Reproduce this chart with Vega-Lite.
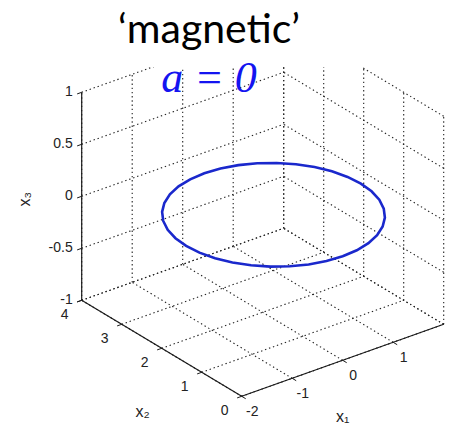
{
  "$schema": "https://vega.github.io/schema/vega-lite/v6.json",
  "width": 452,
  "height": 361,
  "padding": {"top": 10, "left": 0, "right": 0, "bottom": 0},
  "autosize": {"type": "pad"},
  "background": "white",
  "config": {"view": {"stroke": null}},
  "title": {
    "text": "‘magnetic’",
    "subtitle": "a = 0",
    "anchor": "middle",
    "dx": -17,
    "offset": -35,
    "font": "Lato",
    "fontSize": 41,
    "fontWeight": "normal",
    "color": "black",
    "subtitleFont": "Liberation Serif",
    "subtitleFontStyle": "italic",
    "subtitleFontSize": 44,
    "subtitleColor": "#1414f0",
    "subtitlePadding": 5
  },
  "datasets": {
    "grid": [
      {"x1": -2, "x2": 0, "x3": -1, "x1e": -2, "x2e": 4, "x3e": -1},
      {"x1": -1, "x2": 0, "x3": -1, "x1e": -1, "x2e": 4, "x3e": -1},
      {"x1": 0, "x2": 0, "x3": -1, "x1e": 0, "x2e": 4, "x3e": -1},
      {"x1": 1, "x2": 0, "x3": -1, "x1e": 1, "x2e": 4, "x3e": -1},
      {"x1": 2, "x2": 0, "x3": -1, "x1e": 2, "x2e": 4, "x3e": -1},
      {"x1": -2, "x2": 0, "x3": -1, "x1e": 2, "x2e": 0, "x3e": -1},
      {"x1": -2, "x2": 1, "x3": -1, "x1e": 2, "x2e": 1, "x3e": -1},
      {"x1": -2, "x2": 2, "x3": -1, "x1e": 2, "x2e": 2, "x3e": -1},
      {"x1": -2, "x2": 3, "x3": -1, "x1e": 2, "x2e": 3, "x3e": -1},
      {"x1": -2, "x2": 4, "x3": -1, "x1e": 2, "x2e": 4, "x3e": -1},
      {"x1": -2, "x2": 4, "x3": -1, "x1e": -2, "x2e": 4, "x3e": 1},
      {"x1": -1, "x2": 4, "x3": -1, "x1e": -1, "x2e": 4, "x3e": 1},
      {"x1": 0, "x2": 4, "x3": -1, "x1e": 0, "x2e": 4, "x3e": 1},
      {"x1": 1, "x2": 4, "x3": -1, "x1e": 1, "x2e": 4, "x3e": 1},
      {"x1": 2, "x2": 4, "x3": -1, "x1e": 2, "x2e": 4, "x3e": 1},
      {"x1": -2, "x2": 4, "x3": -1, "x1e": 2, "x2e": 4, "x3e": -1},
      {"x1": -2, "x2": 4, "x3": -0.5, "x1e": 2, "x2e": 4, "x3e": -0.5},
      {"x1": -2, "x2": 4, "x3": 0, "x1e": 2, "x2e": 4, "x3e": 0},
      {"x1": -2, "x2": 4, "x3": 0.5, "x1e": 2, "x2e": 4, "x3e": 0.5},
      {"x1": -2, "x2": 4, "x3": 1, "x1e": 2, "x2e": 4, "x3e": 1},
      {"x1": 2, "x2": 0, "x3": -1, "x1e": 2, "x2e": 0, "x3e": 1},
      {"x1": 2, "x2": 1, "x3": -1, "x1e": 2, "x2e": 1, "x3e": 1},
      {"x1": 2, "x2": 2, "x3": -1, "x1e": 2, "x2e": 2, "x3e": 1},
      {"x1": 2, "x2": 3, "x3": -1, "x1e": 2, "x2e": 3, "x3e": 1},
      {"x1": 2, "x2": 4, "x3": -1, "x1e": 2, "x2e": 4, "x3e": 1},
      {"x1": 2, "x2": 0, "x3": -1, "x1e": 2, "x2e": 4, "x3e": -1},
      {"x1": 2, "x2": 0, "x3": -0.5, "x1e": 2, "x2e": 4, "x3e": -0.5},
      {"x1": 2, "x2": 0, "x3": 0, "x1e": 2, "x2e": 4, "x3e": 0},
      {"x1": 2, "x2": 0, "x3": 0.5, "x1e": 2, "x2e": 4, "x3e": 0.5},
      {"x1": 2, "x2": 0, "x3": 1, "x1e": 2, "x2e": 4, "x3e": 1}
    ],
    "axes": [
      {"x1": -2, "x2": 4, "x3": -1, "x1e": -2, "x2e": 4, "x3e": 1},
      {"x1": -2, "x2": 4, "x3": -1, "x1e": -2, "x2e": 0, "x3e": -1},
      {"x1": -2, "x2": 0, "x3": -1, "x1e": 2, "x2e": 0, "x3e": -1}
    ],
    "ticks": [
      {"axis": "x3", "x1": -2, "x2": 4, "x3": -1, "text": "-1"},
      {"axis": "x3", "x1": -2, "x2": 4, "x3": -0.5, "text": "-0.5"},
      {"axis": "x3", "x1": -2, "x2": 4, "x3": 0, "text": "0"},
      {"axis": "x3", "x1": -2, "x2": 4, "x3": 0.5, "text": "0.5"},
      {"axis": "x3", "x1": -2, "x2": 4, "x3": 1, "text": "1"},
      {"axis": "x2", "x1": -2, "x2": 0, "x3": -1, "text": "0"},
      {"axis": "x2", "x1": -2, "x2": 1, "x3": -1, "text": "1"},
      {"axis": "x2", "x1": -2, "x2": 2, "x3": -1, "text": "2"},
      {"axis": "x2", "x1": -2, "x2": 3, "x3": -1, "text": "3"},
      {"axis": "x2", "x1": -2, "x2": 4, "x3": -1, "text": "4"},
      {"axis": "x1", "x1": -2, "x2": 0, "x3": -1, "text": "-2"},
      {"axis": "x1", "x1": -1, "x2": 0, "x3": -1, "text": "-1"},
      {"axis": "x1", "x1": 0, "x2": 0, "x3": -1, "text": "0"},
      {"axis": "x1", "x1": 1, "x2": 0, "x3": -1, "text": "1"}
    ],
    "titles": [
      {"axis": "x3", "x1": -2, "x2": 4, "x3": 0, "text": "x₃"},
      {"axis": "x2", "x1": -2, "x2": 2, "x3": -1, "text": "x₂"},
      {"axis": "x1", "x1": 0, "x2": 0, "x3": -1, "text": "x₁"}
    ],
    "orbit": [
      {"t": 0, "x1": 0, "x2": 0, "x3": 0},
      {"t": 1, "x1": 0.3, "x2": 0.026, "x3": 0},
      {"t": 2, "x1": 0.592, "x2": 0.104, "x3": 0},
      {"t": 3, "x1": 0.865, "x2": 0.232, "x3": 0},
      {"t": 4, "x1": 1.112, "x2": 0.405, "x3": 0},
      {"t": 5, "x1": 1.325, "x2": 0.618, "x3": 0},
      {"t": 6, "x1": 1.498, "x2": 0.865, "x3": 0},
      {"t": 7, "x1": 1.626, "x2": 1.138, "x3": 0},
      {"t": 8, "x1": 1.704, "x2": 1.43, "x3": 0},
      {"t": 9, "x1": 1.73, "x2": 1.73, "x3": 0},
      {"t": 10, "x1": 1.704, "x2": 2.03, "x3": 0},
      {"t": 11, "x1": 1.626, "x2": 2.322, "x3": 0},
      {"t": 12, "x1": 1.498, "x2": 2.595, "x3": 0},
      {"t": 13, "x1": 1.325, "x2": 2.842, "x3": 0},
      {"t": 14, "x1": 1.112, "x2": 3.055, "x3": 0},
      {"t": 15, "x1": 0.865, "x2": 3.228, "x3": 0},
      {"t": 16, "x1": 0.592, "x2": 3.356, "x3": 0},
      {"t": 17, "x1": 0.3, "x2": 3.434, "x3": 0},
      {"t": 18, "x1": 0, "x2": 3.46, "x3": 0},
      {"t": 19, "x1": -0.3, "x2": 3.434, "x3": 0},
      {"t": 20, "x1": -0.592, "x2": 3.356, "x3": 0},
      {"t": 21, "x1": -0.865, "x2": 3.228, "x3": 0},
      {"t": 22, "x1": -1.112, "x2": 3.055, "x3": 0},
      {"t": 23, "x1": -1.325, "x2": 2.842, "x3": 0},
      {"t": 24, "x1": -1.498, "x2": 2.595, "x3": 0},
      {"t": 25, "x1": -1.626, "x2": 2.322, "x3": 0},
      {"t": 26, "x1": -1.704, "x2": 2.03, "x3": 0},
      {"t": 27, "x1": -1.73, "x2": 1.73, "x3": 0},
      {"t": 28, "x1": -1.704, "x2": 1.43, "x3": 0},
      {"t": 29, "x1": -1.626, "x2": 1.138, "x3": 0},
      {"t": 30, "x1": -1.498, "x2": 0.865, "x3": 0},
      {"t": 31, "x1": -1.325, "x2": 0.618, "x3": 0},
      {"t": 32, "x1": -1.112, "x2": 0.405, "x3": 0},
      {"t": 33, "x1": -0.865, "x2": 0.232, "x3": 0},
      {"t": 34, "x1": -0.592, "x2": 0.104, "x3": 0},
      {"t": 35, "x1": -0.3, "x2": 0.026, "x3": 0},
      {"t": 36, "x1": 0, "x2": 0, "x3": 0}
    ]
  },
  "encoding": {
    "x": {"field": "u", "type": "quantitative", "scale": {"domain": [-342.7, 109.3], "nice": false, "zero": false}, "axis": null},
    "y": {"field": "v", "type": "quantitative", "scale": {"domain": [-171.7, 189.3], "nice": false, "zero": false}, "axis": null}
  },
  "layer": [
    {
      "data": {"name": "grid"},
      "transform": [
        {"calculate": "50.5 * datum.x1 - 40 * datum.x2", "as": "u"},
        {"calculate": "18 * datum.x1 + 24 * datum.x2 + 104 * datum.x3", "as": "v"},
        {"calculate": "50.5 * datum.x1e - 40 * datum.x2e", "as": "u2"},
        {"calculate": "18 * datum.x1e + 24 * datum.x2e + 104 * datum.x3e", "as": "v2"}
      ],
      "mark": {"type": "rule", "stroke": "#222222", "strokeWidth": 1.1, "strokeDash": [1.4, 2.8], "clip": true},
      "encoding": {"x2": {"field": "u2"}, "y2": {"field": "v2"}}
    },
    {
      "data": {"name": "axes"},
      "transform": [
        {"calculate": "50.5 * datum.x1 - 40 * datum.x2", "as": "u"},
        {"calculate": "18 * datum.x1 + 24 * datum.x2 + 104 * datum.x3", "as": "v"},
        {"calculate": "50.5 * datum.x1e - 40 * datum.x2e", "as": "u2"},
        {"calculate": "18 * datum.x1e + 24 * datum.x2e + 104 * datum.x3e", "as": "v2"}
      ],
      "mark": {"type": "rule", "stroke": "#1a1a1a", "strokeWidth": 1.2},
      "encoding": {"x2": {"field": "u2"}, "y2": {"field": "v2"}}
    },
    {
      "data": {"name": "ticks"},
      "transform": [
        {"calculate": "50.5 * datum.x1 - 40 * datum.x2", "as": "u"},
        {"calculate": "18 * datum.x1 + 24 * datum.x2 + 104 * datum.x3", "as": "v"},
        {"calculate": "datum.x1 + (datum.axis === 'x1' ? 0 : -0.09)", "as": "e1"},
        {"calculate": "datum.x2 + (datum.axis === 'x1' ? -0.1 : 0)", "as": "e2"},
        {"calculate": "50.5 * datum.e1 - 40 * datum.e2", "as": "u2"},
        {"calculate": "18 * datum.e1 + 24 * datum.e2 + 104 * datum.x3", "as": "v2"}
      ],
      "mark": {"type": "rule", "stroke": "#1a1a1a", "strokeWidth": 1},
      "encoding": {"x2": {"field": "u2"}, "y2": {"field": "v2"}}
    },
    {
      "data": {"name": "ticks"},
      "transform": [
        {"filter": "datum.axis === 'x3'"},
        {"calculate": "50.5 * datum.x1 - 40 * datum.x2", "as": "u"},
        {"calculate": "18 * datum.x1 + 24 * datum.x2 + 104 * datum.x3", "as": "v"}
      ],
      "mark": {"type": "text", "align": "right", "baseline": "middle", "dx": -9, "font": "Liberation Sans", "fontSize": 14, "fill": "#222222"},
      "encoding": {"text": {"field": "text"}}
    },
    {
      "data": {"name": "ticks"},
      "transform": [
        {"filter": "datum.axis === 'x2'"},
        {"calculate": "50.5 * datum.x1 - 40 * datum.x2", "as": "u"},
        {"calculate": "18 * datum.x1 + 24 * datum.x2 + 104 * datum.x3", "as": "v"}
      ],
      "mark": {"type": "text", "align": "center", "baseline": "middle", "dx": -17, "dy": 14.5, "font": "Liberation Sans", "fontSize": 14, "fill": "#222222"},
      "encoding": {"text": {"field": "text"}}
    },
    {
      "data": {"name": "ticks"},
      "transform": [
        {"filter": "datum.axis === 'x1'"},
        {"calculate": "50.5 * datum.x1 - 40 * datum.x2", "as": "u"},
        {"calculate": "18 * datum.x1 + 24 * datum.x2 + 104 * datum.x3", "as": "v"}
      ],
      "mark": {"type": "text", "align": "center", "baseline": "middle", "dx": 10.5, "dy": 15.5, "font": "Liberation Sans", "fontSize": 14, "fill": "#222222"},
      "encoding": {"text": {"field": "text"}}
    },
    {
      "data": {"name": "titles"},
      "transform": [
        {"filter": "datum.axis === 'x3'"},
        {"calculate": "50.5 * datum.x1 - 40 * datum.x2", "as": "u"},
        {"calculate": "18 * datum.x1 + 24 * datum.x2 + 104 * datum.x3", "as": "v"}
      ],
      "mark": {"type": "text", "align": "center", "baseline": "middle", "angle": 270, "dx": -3, "dy": -57, "font": "Liberation Sans", "fontSize": 16, "fill": "#222222"},
      "encoding": {"text": {"field": "text"}}
    },
    {
      "data": {"name": "titles"},
      "transform": [
        {"filter": "datum.axis === 'x2'"},
        {"calculate": "50.5 * datum.x1 - 40 * datum.x2", "as": "u"},
        {"calculate": "18 * datum.x1 + 24 * datum.x2 + 104 * datum.x3", "as": "v"}
      ],
      "mark": {"type": "text", "align": "center", "baseline": "middle", "dx": -19, "dy": 64, "font": "Liberation Sans", "fontSize": 16, "fill": "#222222"},
      "encoding": {"text": {"field": "text"}}
    },
    {
      "data": {"name": "titles"},
      "transform": [
        {"filter": "datum.axis === 'x1'"},
        {"calculate": "50.5 * datum.x1 - 40 * datum.x2", "as": "u"},
        {"calculate": "18 * datum.x1 + 24 * datum.x2 + 104 * datum.x3", "as": "v"}
      ],
      "mark": {"type": "text", "align": "center", "baseline": "middle", "dx": 0, "dy": 57, "font": "Liberation Sans", "fontSize": 16, "fill": "#222222"},
      "encoding": {"text": {"field": "text"}}
    },
    {
      "data": {"name": "orbit"},
      "transform": [
        {"calculate": "50.5 * datum.x1 - 40 * datum.x2", "as": "u"},
        {"calculate": "18 * datum.x1 + 24 * datum.x2 + 104 * datum.x3", "as": "v"}
      ],
      "mark": {"type": "line", "stroke": "#1a28cc", "strokeWidth": 2.6, "interpolate": "linear"},
      "encoding": {"order": {"field": "t", "type": "quantitative"}}
    }
  ]
}
